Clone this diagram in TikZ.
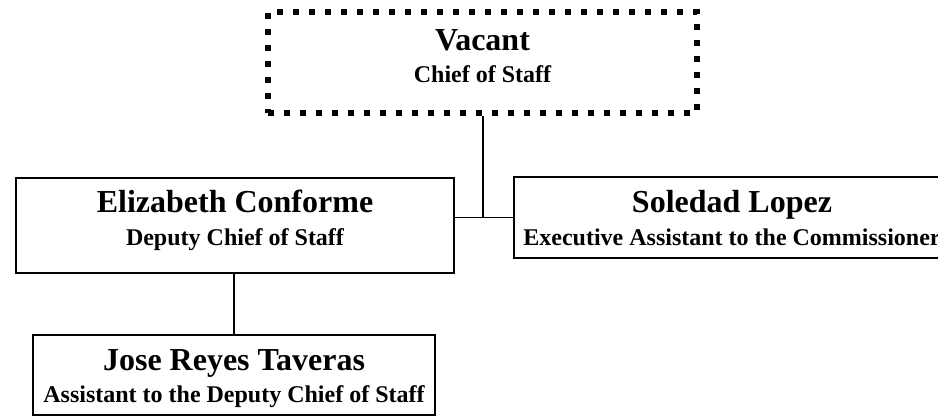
\documentclass[tikz,border=0pt]{standalone}
\usepackage{fontspec}
\setmainfont{Liberation Serif}
\tikzset{every node/.style={draw=none,inner sep=0pt,align=center,
    font=\bfseries\fontsize{32}{33}\selectfont},
  post/.style={draw,line width=2pt},
  vacantpost/.style={draw,line width=6pt,dash pattern=on 6pt off 10pt},
  person/.style={anchor=base},
  role/.style={anchor=base,font=\bfseries\fontsize{24}{30}\selectfont}}

\begin{document}
\begin{tikzpicture}[x=1pt,y=-1pt]
\useasboundingbox (0,0) rectangle (938,417);
      \node[vacantpost,minimum width=429pt,minimum height=101pt] (chief) at (482.5,62.5) {};
      \node[person] (chiefname) at (482.5,51) {Vacant};
      \node[role] (chiefrole) at (482.5,83) {Chief of Staff};
      \node[post,minimum width=438pt,minimum height=95pt] (deputy) at (235,225.5) {};
      \node[person] (deputyname) at (235,212) {Elizabeth Conforme};
      \node[role] (deputyrole) at (235,246) {Deputy Chief of Staff};
      \node[post,minimum width=436pt,minimum height=81pt] (exec) at (732,217.5) {};
      \node[person] (execname) at (732,212) {Soledad Lopez};
      \node[role] (execrole) at (732,246) {Executive Assistant to the Commissioner};
      \node[post,minimum width=402pt,minimum height=80pt] (assist) at (234,375) {};
      \node[person] (assistname) at (234,370) {Jose Reyes Taveras};
      \node[role] (assistrole) at (234,402) {Assistant to the Deputy Chief of Staff};
      \coordinate (join) at (483,217.5);

\draw[line width=1.5pt] (chief.south -| join) -- (join);
\draw[line width=1.5pt] (deputy.east |- exec.west) -- (exec.west);
\draw[line width=1.5pt] (deputy.south -| assist.north) -- (assist.north);
    \end{tikzpicture}
\end{document}
